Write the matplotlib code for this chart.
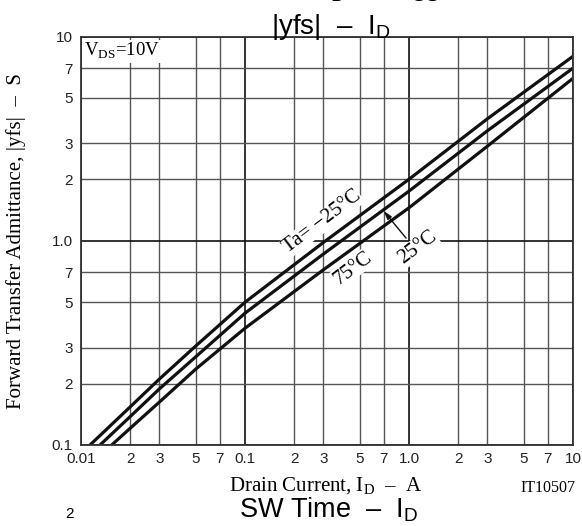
import numpy as np
import matplotlib
matplotlib.use("Agg")
import matplotlib.pyplot as plt
from matplotlib.ticker import FixedLocator, FixedFormatter

# values (drain current in A, |yfs| in S)
id_m25 = [0.01135, 0.02, 0.03, 0.05, 0.1, 0.3, 1.0, 3.0, 10.0]
yfs_m25 = [0.1, 0.154, 0.21, 0.305, 0.5, 0.98, 2.0, 3.95, 8.0]

id_25 = [0.01306, 0.02, 0.03, 0.05, 0.1, 0.3, 1.0, 3.0, 10.0]
yfs_25 = [0.1, 0.138, 0.188, 0.27, 0.442, 0.86, 1.75, 3.45, 7.0]

id_75 = [0.01539, 0.02, 0.03, 0.05, 0.1, 0.3, 1.0, 3.0, 10.0]
yfs_75 = [0.1, 0.121, 0.162, 0.235, 0.373, 0.72, 1.45, 2.9, 6.24]

x_major = [0.01, 0.1, 1.0, 10]
x_major_lbl = ["0.01", "0.1", "1.0", "10"]
x_minor = [0.02, 0.03, 0.05, 0.07, 0.2, 0.3, 0.5, 0.7, 2, 3, 5, 7]
x_minor_lbl = ["2", "3", "5", "7"] * 3

y_major = [0.1, 1.0, 10]
y_major_lbl = ["0.1", "1.0", "10"]
y_minor = [0.2, 0.3, 0.5, 0.7, 2, 3, 5, 7]
y_minor_lbl = ["2", "3", "5", "7"] * 2

SANS = "Liberation Sans"
SERIF = "Liberation Serif"
plt.rcParams["mathtext.fontset"] = "custom"
plt.rcParams["mathtext.rm"] = SERIF
plt.rcParams["mathtext.sf"] = SANS

fig = plt.figure(figsize=(5.82, 5.26), dpi=100)
ax = fig.add_axes([81 / 582, 1 - 445 / 526, 492 / 582, 408.5 / 526])
ax.set_xscale("log")
ax.set_yscale("log")
ax.set_xlim(0.01, 10)
ax.set_ylim(0.1, 10)

ax.xaxis.set_major_locator(FixedLocator(x_major))
ax.xaxis.set_major_formatter(FixedFormatter(x_major_lbl))
ax.xaxis.set_minor_locator(FixedLocator(x_minor))
ax.xaxis.set_minor_formatter(FixedFormatter(x_minor_lbl))
ax.yaxis.set_major_locator(FixedLocator(y_major))
ax.yaxis.set_major_formatter(FixedFormatter(y_major_lbl))
ax.yaxis.set_minor_locator(FixedLocator(y_minor))
ax.yaxis.set_minor_formatter(FixedFormatter(y_minor_lbl))

ax.tick_params(which="both", length=0, labelsize=11, colors="#222222")
ax.tick_params(axis="x", which="both", pad=5)
ax.tick_params(axis="y", which="both", pad=6)
for lbl in ax.get_xticklabels(which="both") + ax.get_yticklabels(which="both"):
    lbl.set_fontfamily(SANS)

ax.grid(which="major", color="#111111", lw=1.2)
ax.grid(which="minor", color="#555555", lw=1.0)
ax.set_axisbelow(True)
for s in ax.spines.values():
    s.set_color("#333333")
    s.set_linewidth(1.3)

for xs, ys in [(id_m25, yfs_m25), (id_25, yfs_25), (id_75, yfs_75)]:
    ax.plot(xs, ys, color="#111111", lw=2.3, solid_capstyle="butt")

wb = dict(facecolor="white", edgecolor="none", pad=0.5)
ax.text(0.295, 1.235, "Ta= \u221225\u00b0C", family=SERIF, fontsize=15, rotation=37,
        ha="center", va="center", bbox=wb)
ax.text(0.455, 0.736, "75\u00b0C", family=SERIF, fontsize=15, rotation=37,
        ha="center", va="center", bbox=wb)
ax.text(1.13, 0.925, "25\u00b0C", family=SERIF, fontsize=15, rotation=37,
        ha="center", va="center", bbox=wb)
ax.annotate("", xy=(0.70, 1.40), xytext=(0.96, 1.03),
            arrowprops=dict(arrowstyle="-|>,head_length=0.5,head_width=0.15",
                            color="#111111", lw=1.0, shrinkA=0, shrinkB=0))

ax.text(0.0105, 9.5, "V$_{\\rm DS}$=10V", family=SERIF, fontsize=13.5,
        ha="left", va="top", bbox=dict(facecolor="white", edgecolor="none", pad=1.0))

ax.set_xlabel("Drain Current, I$_{\\rm D}$  \u2013  A", family=SERIF, fontsize=15)
ax.xaxis.set_label_coords(0.497, (445 - 491.7) / 408.5)
ax.xaxis.label.set_va("baseline")
ax.set_ylabel("Forward Transfer Admittance, |yfs|  \u2013  S", family=SERIF, fontsize=15)
ax.yaxis.set_label_coords(-(81 - 16) / 492, 0.5)
ax.yaxis.label.set_va("center")

fig.text(575 / 582, 1 - 491.7 / 526, "IT10507", family=SERIF, fontsize=11.5,
         ha="right", va="baseline")
fig.text(331 / 582, 1 - 34 / 526, "|yfs|  \u2013  I$_{\\mathsf{D}}$", family=SANS, fontsize=20,
         ha="center", va="baseline")
fig.text(329 / 582, 1 - 518 / 526, "SW Time  \u2013  I$_{\\mathsf{D}}$", family=SANS, fontsize=19.5,
         ha="center", va="baseline")
# bits of the neighbouring charts that are cut by the frame
fig.text(382 / 582, 1 - (-3) / 526, "I$_{\\mathsf{D}}$  \u2013  V$_{\\mathsf{GS}}$", family=SANS,
         fontsize=20, ha="center", va="baseline")
fig.text(70 / 582, 1 - 521 / 526, "2", family=SANS, fontsize=11, ha="center", va="bottom")

fig.savefig("out.png", dpi=100)
